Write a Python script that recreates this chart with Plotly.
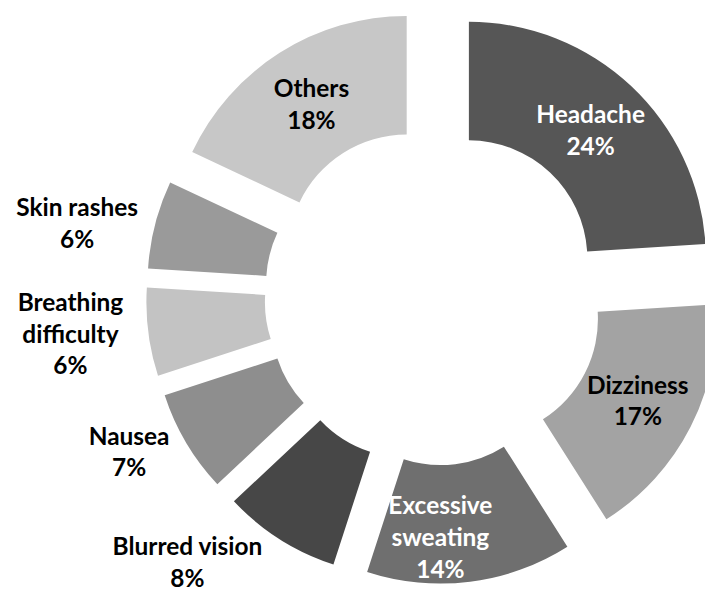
import plotly.graph_objects as go

categories = ["Headache", "Dizziness", "Excessive sweating", "Blurred vision",
              "Nausea", "Breathing difficulty", "Skin rashes", "Others"]
display_labels = ["Headache", "Dizziness", "Excessive<br>sweating", "Blurred vision",
                  "Nausea", "Breathing<br>difficulty", "Skin rashes", "Others"]
values = [24, 17, 14, 8, 7, 6, 6, 18]

colors = ["#565656", "#a3a3a3", "#6f6f6f", "#474747",
          "#8e8e8e", "#c3c3c3", "#9a9a9a", "#c7c7c7"]
text_pos = ["inside", "inside", "inside", "outside",
            "outside", "outside", "outside", "inside"]
text_colors = ["white", "black", "white", "black",
               "black", "black", "black", "black"]

W, H = 725, 615
cx, cy = 426, 288
half = 288
pull = 0.215

fig = go.Figure(go.Pie(
    labels=categories,
    values=values,
    customdata=display_labels,
    texttemplate="%{customdata}<br>%{percent:.0%}",
    textposition=text_pos,
    insidetextorientation="horizontal",
    automargin=False,
    sort=False,
    direction="clockwise",
    rotation=0,
    hole=0.5,
    pull=[pull] * len(values),
    marker=dict(colors=colors, line=dict(width=0)),
    textfont=dict(family="Lato", size=25, color=text_colors, weight="bold"),
    insidetextfont=dict(family="Lato", size=25, color=text_colors, weight="bold"),
    outsidetextfont=dict(family="Lato", size=25, color="black", weight="bold"),
    domain=dict(x=[(cx - half) / W, (cx + half) / W],
                y=[(H - cy - half) / H, (H - cy + half) / H]),
    showlegend=False,
))

fig.update_layout(
    width=W, height=H,
    margin=dict(l=0, r=0, t=0, b=0),
    paper_bgcolor="white",
    plot_bgcolor="white",
    uniformtext=dict(minsize=24, mode="show"),
)

fig.write_html("out.html")
